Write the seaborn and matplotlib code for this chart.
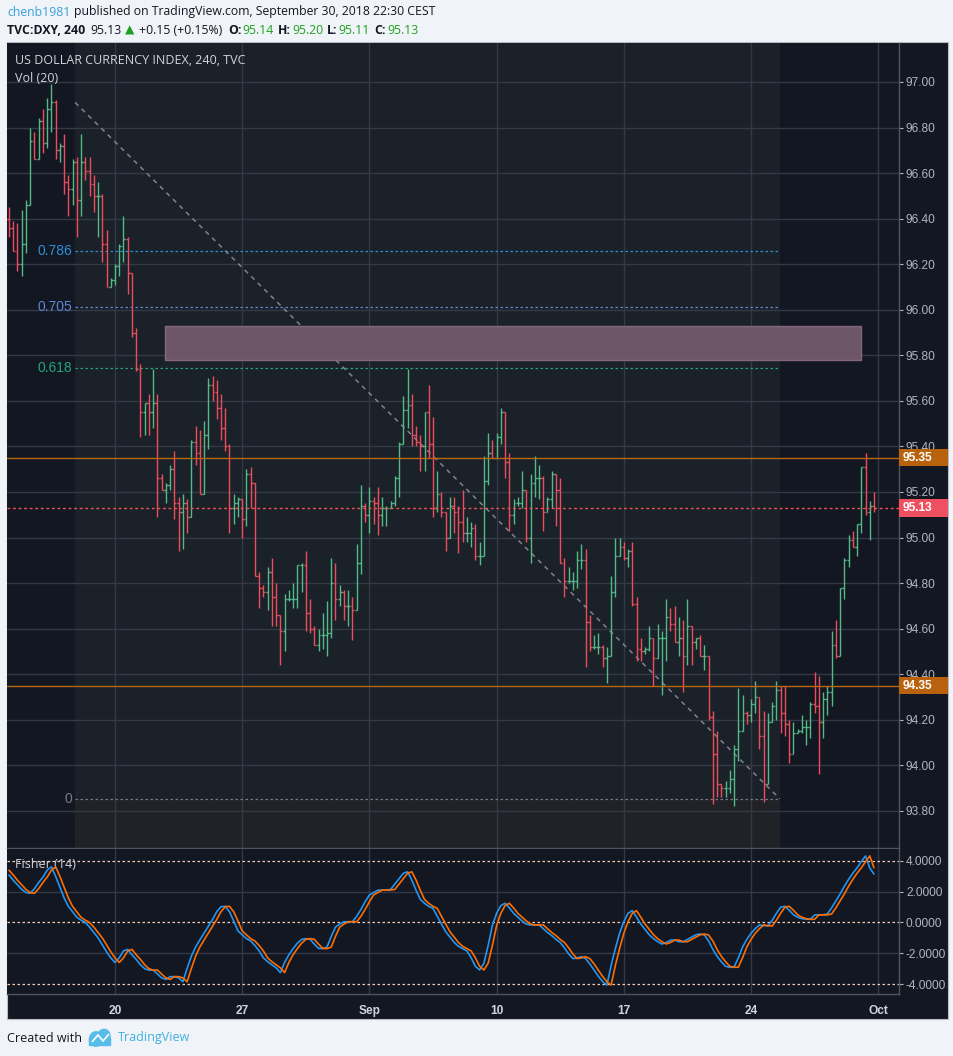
import numpy as np
import pandas as pd
import seaborn as sns
import matplotlib
matplotlib.use('Agg')
import matplotlib.pyplot as plt
import matplotlib.transforms as mtransforms
from matplotlib.patches import Rectangle, Polygon, Circle

# ---- data (DXY, 4h bars, Aug 14 - Sep 28 2018) ----
# bar index 0 = first bar of Mon Aug 20, 30 bars per week
first_open = 96.40
highs = [
    96.45, 96.39, 96.38, 96.44, 96.48, 96.80, 96.78, 96.84, 96.88, 96.93,  # -25
    96.99, 96.92, 96.73, 96.77, 96.59, 96.66, 96.67, 96.77, 96.67, 96.67,  # -15
    96.59, 96.56, 96.51, 96.35, 96.14, 96.20, 96.29, 96.41, 96.32, 96.16,  # -5
    95.92, 95.76, 95.59, 95.63, 95.74, 95.63, 95.28, 95.24, 95.32, 95.38,  # 5
    95.18, 95.19, 95.17, 95.43, 95.49, 95.47, 95.51, 95.70, 95.71, 95.69,  # 15
    95.63, 95.57, 95.41, 95.19, 95.18, 95.14, 95.30, 95.31, 95.24, 94.85,  # 25
    94.79, 94.87, 94.91, 94.80, 94.66, 94.75, 94.77, 94.80, 94.88, 94.89,  # 35
    94.94, 94.73, 94.61, 94.60, 94.67, 94.72, 94.91, 94.89, 94.79, 94.77,  # 45
    94.77, 94.74, 94.97, 95.23, 95.15, 95.22, 95.18, 95.22, 95.18, 95.14,  # 55
    95.16, 95.27, 95.42, 95.62, 95.74, 95.63, 95.49, 95.45, 95.55, 95.67,  # 65
    95.53, 95.29, 95.20, 95.11, 95.18, 95.18, 95.14, 95.21, 95.09, 95.07,  # 75
    95.06, 94.98, 95.36, 95.46, 95.43, 95.46, 95.57, 95.55, 95.37, 95.17,  # 85
    95.18, 95.29, 95.21, 95.28, 95.36, 95.32, 95.27, 95.18, 95.29, 95.28,  # 95
    95.26, 94.91, 94.87, 94.85, 94.94, 94.97, 94.95, 94.66, 94.57, 94.58,  # 105
    94.53, 94.52, 94.83, 95.00, 95.00, 94.98, 94.95, 94.98, 94.74, 94.56,  # 115
    94.52, 94.61, 94.56, 94.62, 94.59, 94.73, 94.69, 94.70, 94.65, 94.64,  # 125
    94.73, 94.61, 94.56, 94.57, 94.53, 94.48, 94.24, 94.15, 93.92, 93.93,  # 135
    93.98, 94.09, 94.34, 94.31, 94.24, 94.29, 94.37, 94.30, 94.24, 94.23,  # 145
    94.28, 94.37, 94.35, 94.35, 94.20, 94.19, 94.16, 94.22, 94.20, 94.28,  # 155
    94.41, 94.39, 94.32, 94.35, 94.59, 94.64, 94.78, 94.91, 95.01, 95.03,  # 165
    95.06, 95.31, 95.37, 95.16, 95.20,                                     # 175
]
lows = [
    96.32, 96.26, 96.17, 96.15, 96.25, 96.46, 96.66, 96.66, 96.69, 96.71,
    96.78, 96.66, 96.65, 96.51, 96.41, 96.46, 96.32, 96.41, 96.57, 96.50,
    96.43, 96.32, 96.21, 96.10, 96.10, 96.11, 96.15, 96.21, 96.07, 95.88,
    95.73, 95.44, 95.45, 95.45, 95.48, 95.09, 95.21, 95.15, 95.21, 95.08,
    94.94, 94.95, 95.02, 95.09, 95.32, 95.19, 95.19, 95.39, 95.60, 95.52,
    95.43, 95.38, 95.02, 95.06, 95.09, 95.00, 95.05, 95.13, 94.83, 94.69,
    94.74, 94.68, 94.61, 94.61, 94.44, 94.50, 94.72, 94.69, 94.69, 94.76,
    94.59, 94.58, 94.53, 94.50, 94.51, 94.48, 94.56, 94.64, 94.70, 94.64,
    94.61, 94.55, 94.68, 94.84, 95.07, 95.02, 95.06, 95.01, 95.05, 95.05,
    95.13, 95.14, 95.18, 95.41, 95.48, 95.40, 95.40, 95.29, 95.29, 95.35,
    95.09, 95.11, 95.09, 94.94, 95.00, 95.02, 94.93, 94.98, 94.98, 94.96,
    94.90, 94.88, 94.92, 95.23, 95.35, 95.35, 95.41, 95.26, 95.03, 95.06,
    95.14, 95.13, 94.98, 94.89, 95.18, 95.17, 95.03, 95.11, 95.13, 95.05,
    94.89, 94.74, 94.80, 94.77, 94.78, 94.86, 94.43, 94.50, 94.51, 94.49,
    94.43, 94.36, 94.48, 94.74, 94.92, 94.90, 94.87, 94.70, 94.46, 94.46,
    94.49, 94.50, 94.35, 94.47, 94.31, 94.46, 94.59, 94.54, 94.48, 94.32,
    94.44, 94.44, 94.51, 94.48, 94.42, 94.20, 93.83, 93.86, 93.86, 93.86,
    93.88, 93.82, 94.02, 94.19, 94.18, 94.19, 94.23, 94.07, 93.84, 93.92,
    94.19, 94.20, 94.14, 94.13, 94.01, 94.05, 94.14, 94.14, 94.09, 94.12,
    94.23, 93.96, 94.12, 94.22, 94.26, 94.47, 94.48, 94.73, 94.87, 94.96,
    94.92, 95.02, 95.10, 94.99, 95.11,
]
closes = [
    96.36, 96.26, 96.20, 96.29, 96.46, 96.74, 96.66, 96.83, 96.73, 96.88,
    96.91, 96.70, 96.72, 96.56, 96.53, 96.65, 96.48, 96.65, 96.61, 96.55,
    96.50, 96.50, 96.29, 96.10, 96.13, 96.19, 96.28, 96.31, 96.16, 95.90,
    95.74, 95.55, 95.59, 95.55, 95.59, 95.26, 95.21, 95.23, 95.30, 95.15,
    95.11, 95.15, 95.09, 95.42, 95.37, 95.19, 95.45, 95.67, 95.64, 95.57,
    95.48, 95.40, 95.13, 95.15, 95.17, 95.08, 95.28, 95.24, 94.83, 94.78,
    94.76, 94.85, 94.74, 94.66, 94.59, 94.73, 94.73, 94.73, 94.88, 94.88,
    94.67, 94.60, 94.53, 94.57, 94.57, 94.58, 94.80, 94.73, 94.76, 94.70,
    94.70, 94.68, 94.89, 95.14, 95.10, 95.16, 95.15, 95.10, 95.13, 95.13,
    95.15, 95.26, 95.41, 95.56, 95.58, 95.45, 95.42, 95.40, 95.55, 95.41,
    95.13, 95.19, 95.11, 95.00, 95.14, 95.11, 95.07, 95.02, 95.02, 95.04,
    94.92, 94.92, 95.25, 95.37, 95.35, 95.44, 95.55, 95.33, 95.10, 95.15,
    95.15, 95.21, 95.00, 95.24, 95.26, 95.26, 95.11, 95.17, 95.28, 95.21,
    94.89, 94.81, 94.81, 94.81, 94.90, 94.90, 94.63, 94.52, 94.52, 94.52,
    94.47, 94.48, 94.76, 94.92, 94.96, 94.91, 94.94, 94.71, 94.51, 94.50,
    94.51, 94.56, 94.47, 94.56, 94.56, 94.65, 94.62, 94.54, 94.56, 94.48,
    94.61, 94.54, 94.56, 94.48, 94.48, 94.21, 94.05, 93.92, 93.90, 93.90,
    93.94, 94.07, 94.15, 94.23, 94.22, 94.27, 94.30, 94.13, 93.92, 94.19,
    94.26, 94.33, 94.23, 94.18, 94.05, 94.14, 94.15, 94.17, 94.17, 94.27,
    94.26, 94.19, 94.29, 94.32, 94.53, 94.48, 94.78, 94.90, 94.99, 94.96,
    95.06, 95.31, 95.11, 95.14, 95.13,
]
# Fisher(14), starts one bar before the first price bar (trigger = previous value)
fisher = [
    3.40,                                                                  # -26
    3.09, 2.75, 2.45, 2.15, 1.95, 1.90, 2.20, 2.60, 2.95, 3.40,            # -25
    3.62, 3.00, 2.30, 1.60, 1.05, 0.70, 0.34, 0.15, 0.00, -0.30,           # -15
    -0.65, -1.00, -1.45, -1.90, -2.30, -2.60, -2.30, -1.85, -1.75, -2.10,  # -5
    -2.40, -2.75, -3.00, -3.10, -3.09, -3.35, -3.60, -3.70, -3.52, -3.52,  # 5
    -3.60, -3.85, -3.00, -2.20, -1.60, -1.14, -0.70, -0.25, 0.20, 0.70,    # 15
    1.03, 1.05, 0.70, 0.10, -0.55, -0.80, -1.05, -1.20, -1.50, -1.85,      # 25
    -2.30, -2.55, -2.75, -2.95, -3.26, -2.60, -2.10, -1.70, -1.35, -1.10,  # 35
    -1.05, -1.09, -1.40, -1.68, -1.70, -1.60, -0.90, -0.30, -0.10, 0.05,   # 45
    0.05, 0.05, 0.40, 0.85, 1.35, 1.79, 1.95, 2.10, 2.11, 2.11,            # 55
    2.15, 2.50, 2.85, 3.20, 3.30, 2.76, 2.10, 1.50, 1.25, 1.05,            # 65
    0.92, 0.40, -0.10, -0.60, -0.95, -1.30, -1.55, -1.70, -1.85, -2.30,    # 75
    -2.85, -3.09, -2.65, -1.50, -0.20, 0.60, 1.10, 1.25, 0.95, 0.60,       # 85
    0.35, 0.10, -0.10, -0.16, -0.16, -0.16, -0.40, -0.65, -0.85, -1.10,    # 95
    -1.30, -1.65, -2.05, -2.35, -2.30, -2.22, -2.35, -2.70, -3.10, -3.50,  # 105
    -3.85, -4.07, -2.80, -1.70, -0.70, 0.05, 0.60, 0.77, 0.35, -0.10,      # 115
    -0.45, -0.80, -1.05, -1.25, -1.40, -1.30, -1.15, -1.14, -1.25, -1.25,  # 125
    -1.10, -0.95, -0.80, -0.75, -0.81, -1.20, -1.75, -2.20, -2.55, -2.85,  # 135
    -2.91, -2.91, -2.30, -1.60, -1.10, -0.70, -0.40, -0.16, -0.20, -0.23,  # 145
    0.15, 0.60, 1.00, 1.05, 0.80, 0.50, 0.34, 0.25, 0.21, 0.21,            # 155
    0.49, 0.50, 0.50, 0.55, 0.95, 1.40, 1.85, 2.35, 2.80, 3.20,            # 165
    3.55, 3.95, 4.33, 3.55, 3.15,                                          # 175
]

week_ticks = [0, 30, 60, 90, 120, 150, 180]
week_labels = ['20', '27', 'Sep', '10', '17', '24', 'Oct']
fib_labels = ['0.786', '0.705', '0.618', '0']
fib_prices = [96.26, 96.01, 95.745, 93.853]
fib_colors = ['#2e8fd6', '#5f86cf', '#22a57a', '#787b86']
fib_top = 96.91
fib_start, fib_end = -9.4, 156.8
zone_low, zone_high = 95.78, 95.93
zone_start, zone_end = 11.8, 175.9
level_lines = [95.35, 94.35]
last_price = 95.13

assert len(highs) == len(lows) == len(closes) == 205
assert len(fisher) == 206

W, H = 954, 1056
BG = '#131722'
GRID = '#343946'
TXT = '#b2b5be'
GREEN = '#53b987'
RED = '#eb4d5c'

sns.set_theme(style='dark')
plt.rcParams['font.family'] = ['Liberation Sans', 'DejaVu Sans']
SANS = ['Open Sans', 'DejaVu Sans']

fig = plt.figure(figsize=(W / 100, H / 100), dpi=100)
fig.patch.set_facecolor('#f0f3f7')
fig.patches.append(Rectangle((7 / W, 1 - 1019 / H), 941 / W, 977 / H, transform=fig.transFigure,
                             facecolor=BG, edgecolor='#b8bbc3', lw=0.8, zorder=-5))

ax = fig.add_axes([7 / W, 1 - 848 / H, 892 / W, 805 / H])
axf = fig.add_axes([7 / W, 1 - 994 / H, 892 / W, 145 / H])

bars = np.arange(-25, 180)
df = pd.DataFrame({'bar': bars, 'high': highs, 'low': lows, 'close': closes})
df['open'] = np.r_[first_open, df['close'].values[:-1]]
df['color'] = np.where(df['close'] >= df['open'], GREEN, RED)

for a in (ax, axf):
    a.set_facecolor(BG)
    a.set_xlim(-25.47, 184.9)
    a.set_xticks(week_ticks)
    a.grid(True, color=GRID, lw=1)
    a.set_axisbelow(True)
    for s in a.spines.values():
        s.set_color('#50545f')
        s.set_linewidth(1)
    a.spines['left'].set_visible(False)
    a.spines['top'].set_visible(False)
    a.yaxis.tick_right()
    a.tick_params(axis='y', colors=TXT, labelsize=8.6, length=3, pad=2, width=0.8)
    a.tick_params(axis='x', length=0)

# ---- price panel ----
ax.set_ylim(93.637, 97.171)
ax.set_yticks(np.round(np.arange(93.8, 97.01, 0.2), 2))
ax.set_yticklabels([f'{v:.2f}' for v in np.arange(93.8, 97.01, 0.2)])
ax.tick_params(axis='x', labelbottom=False)

ax.add_patch(Rectangle((fib_start, fib_prices[-1]), fib_end - fib_start, 4,
                       facecolor='#1b2129', edgecolor='none', zorder=0.5))
ax.add_patch(Rectangle((fib_start, 93.0), fib_end - fib_start, fib_prices[-1] - 93.0,
                       facecolor='#202228', edgecolor='none', zorder=0.5))
ax.hlines(fib_prices, fib_start, fib_end, colors=fib_colors, linestyles=(0, (2, 2)), lw=0.9, zorder=1)
ax.plot([fib_start, fib_end], [fib_top, fib_prices[-1]], ls=(0, (3, 3)), color='#80838d', lw=1.1, zorder=1)

trf = mtransforms.blended_transform_factory(fig.transFigure, ax.transData)
for lab, p, c in zip(fib_labels, fib_prices, fib_colors):
    ax.text(72 / W, p, lab, transform=trf, ha='right', va='center', color=c, fontsize=10)

ax.add_patch(Rectangle((zone_start, zone_low), zone_end - zone_start, zone_high - zone_low,
                       facecolor='#6e5669', edgecolor='#85667d', lw=1, zorder=2))

ax.vlines(df['bar'], df[['low', 'open', 'close']].min(axis=1), df[['high', 'open', 'close']].max(axis=1),
          colors=df['color'], lw=1.0, zorder=3)
ax.hlines(df['open'], df['bar'] - 0.45, df['bar'], colors=df['color'], lw=1.0, zorder=3)
ax.hlines(df['close'], df['bar'], df['bar'] + 0.45, colors=df['color'], lw=1.0, zorder=3)

for lv in level_lines:
    ax.axhline(lv, color='#b8650f', lw=1.0, zorder=4)
ax.axhline(last_price, color='#ef5350', lw=1.0, ls=(0, (2, 2)), zorder=4)

for lv, c in [(level_lines[0], '#b8620d'), (level_lines[1], '#b8620d'), (last_price, '#ef5061')]:
    ax.add_patch(Rectangle((899 / W, lv - 0.038), 49 / W, 0.076, transform=trf,
                           facecolor=c, edgecolor='none', clip_on=False, zorder=6))
    ax.text(903 / W, lv, f'{lv:.2f}', transform=trf, ha='left', va='center', color='white',
            fontsize=8.6, fontweight='bold', zorder=7, clip_on=False)

ax.text(15 / W, 1 - 61 / H, 'US DOLLAR CURRENCY INDEX, 240, TVC', transform=fig.transFigure,
        color='#d1d4dc', fontsize=9, va='center', family=SANS)
ax.text(15 / W, 1 - 79 / H, 'Vol (20)', transform=fig.transFigure,
        color='#d1d4dc', fontsize=9, va='center', family=SANS)

# ---- Fisher panel ----
fdf = pd.DataFrame({'bar': bars, 'fisher': fisher[1:], 'trigger': fisher[:-1]})
sns.lineplot(data=fdf, x='bar', y='fisher', color='#2196f3', lw=1.2, ax=axf, zorder=3)
sns.lineplot(data=fdf, x='bar', y='trigger', color='#ff6d00', lw=1.2, ax=axf, zorder=4)
axf.set_xlabel('')
axf.set_ylabel('')
axf.set_ylim(-4.65, 4.78)
axf.set_yticks([4, 2, 0, -2, -4])
axf.set_yticklabels([f'{v:.4f}' for v in [4, 2, 0, -2, -4]])
axf.grid(False)
for v in week_ticks:
    axf.axvline(v, color=GRID, lw=1, zorder=0.5)
for v in (2, -2):
    axf.axhline(v, color=GRID, lw=1, zorder=0.5)
for v in (4, 0, -4):
    axf.axhline(v, color='#f7cdb5', lw=0.9, ls=(0, (2, 2)), zorder=1)
axf.set_xticklabels(week_labels)
axf.tick_params(axis='x', colors='#d1d4dc', labelsize=8.6, pad=8)
for t in axf.get_xticklabels():
    t.set_fontweight('bold')
axf.text(15 / W, 1 - 865 / H, 'Fisher (14)', transform=fig.transFigure, color='#d1d4dc',
         fontsize=9, va='center', family=SANS)

# ---- header / footer ----
DARK = '#131722'
UP = '#1fa01f'
fig.text(7 / W, 1 - 12 / H, 'chenb1981', color='#3a9fdc', fontsize=8.8, va='center', family=SANS)
fig.text(74 / W, 1 - 12 / H, 'published on TradingView.com, September 30, 2018 22:30 CEST', color=DARK,
         fontsize=8.8, va='center', family=SANS)
header2 = [(7, 'TVC:DXY, 240', DARK, 'bold'), (90, '95.13', DARK, 'normal'), (125, '▲', UP, 'normal'),
           (139, '+0.15 (+0.15%)', DARK, 'normal'), (228, 'O:', DARK, 'bold'), (242, '95.14', UP, 'normal'),
           (278, 'H:', DARK, 'bold'), (292, '95.20', UP, 'normal'), (327, 'L:', DARK, 'bold'),
           (338, '95.11', UP, 'normal'), (374, 'C:', DARK, 'bold'), (387, '95.13', UP, 'normal')]
for x, s, c, w in header2:
    fig.text(x / W, 1 - 30 / H, s, color=c, fontweight=w, fontsize=8.8, va='center', family=SANS)

fig.text(7 / W, 1 - 1038 / H, 'Created with', color=DARK, fontsize=9, va='center', family=SANS)
logo = '#56bde8'
fig.patches.append(Circle((96 / W, 1 - 1039 / H), 6.5 / W, transform=fig.transFigure, color=logo))
fig.patches.append(Circle((104 / W, 1 - 1036 / H), 6 / W, transform=fig.transFigure, color=logo))
fig.patches.append(Rectangle((89 / W, 1 - 1045 / H), 21 / W, 7 / H, transform=fig.transFigure, color=logo))
fig.patches.append(Polygon([(92 / W, 1 - 1042 / H), (98 / W, 1 - 1035 / H), (103 / W, 1 - 1041 / H),
                            (109 / W, 1 - 1034 / H)], closed=False, fill=False, edgecolor='white',
                           lw=1.2, transform=fig.transFigure))
fig.text(118 / W, 1 - 1038 / H, 'TradingView', color='#3fb0e0', fontsize=9, va='center', family=SANS)

fig.savefig('out.png', dpi=100, facecolor=fig.get_facecolor())
